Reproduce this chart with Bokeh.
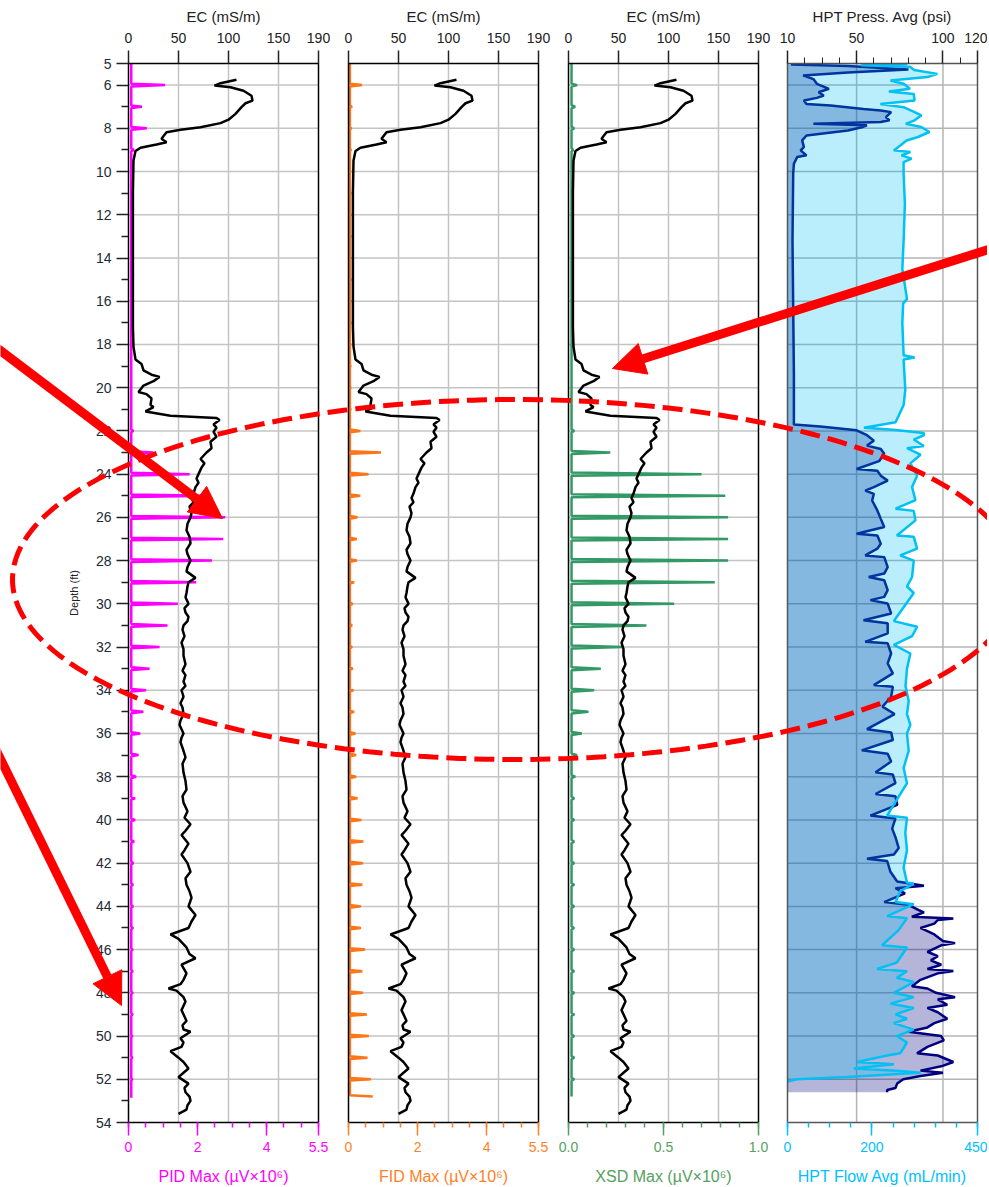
import numpy as np
from bokeh.plotting import figure
from bokeh.models import (Range1d, LinearAxis, FixedTicker, Arrow, NormalHead,
                          PolyAnnotation, ColumnDataSource)
from bokeh.embed import file_html
from bokeh.resources import INLINE

# ---------------- data ----------------
depth_ticks = [5, 6] + list(range(8, 55, 2))
depth_minor = list(range(7, 54, 2))
depth_grid = [6] + list(range(8, 54, 2))

ec_depth = [5.75, 5.91, 6.02, 6.10, 6.26, 6.49, 6.72, 6.84, 7.02, 7.33, 7.6, 7.76, 7.95, 8.07, 8.18,
            8.48, 8.64, 8.75, 8.9, 9.05, 9.49, 11.0, 14.1, 17.2, 18.1, 18.7, 18.9, 19.2, 19.4, 19.5,
            19.7, 19.9, 20.2, 20.3, 20.5, 20.8, 20.9, 21.1, 21.3, 21.4, 21.5, 21.7, 21.85, 22.04,
            22.27, 22.5, 22.8, 23.0, 23.3, 23.5, 23.7, 24.0, 24.2, 24.4, 24.6, 24.9, 25.1, 25.3, 25.5,
            25.8, 26.0, 26.3, 26.6, 26.9, 27.2, 27.5, 27.7, 28.0, 28.3, 28.5, 28.8, 29.0, 29.2, 29.5,
            29.7, 30.0, 30.2, 30.4, 30.6, 30.8, 31.0, 31.2, 31.5, 31.8, 32.1, 32.4, 32.8, 33.1, 33.3,
            33.6, 33.8, 34.0, 34.3, 34.6, 34.8, 35.1, 35.4, 35.6, 36.0, 36.2, 36.4, 36.8, 37.1, 37.4,
            37.8, 38.2, 38.6, 38.9, 39.2, 39.6, 39.9, 40.2, 40.5, 40.7, 41.1, 41.4, 41.6, 42.0, 42.4,
            42.7, 43.0, 43.3, 43.6, 44.0, 44.4, 44.7, 45.0, 45.3, 45.5, 45.9, 46.2, 46.4, 46.7, 47.1,
            47.4, 47.6, 47.8, 47.9, 48.2, 48.4, 48.8, 49.1, 49.3, 49.5, 49.7, 49.8, 50.1, 50.3, 50.5,
            50.7, 51.0, 51.2, 51.5, 51.7, 51.9, 52.2, 52.4, 52.6, 52.8, 53.0, 53.2, 53.4, 53.6]
ec_value = [108, 92, 86, 102, 115, 123, 124, 117, 113, 107, 100, 92, 72, 52, 38,
            33, 38, 28, 12, 7, 5, 4.4, 4.4, 4.4, 5, 7, 13, 15, 23, 31,
            25, 15, 10, 18, 23, 22, 25, 17, 42, 88, 91, 85, 88, 85,
            88, 82, 83, 78, 72, 76, 73, 70, 68, 70, 67, 65, 63, 65, 61,
            63, 62, 59, 58, 61, 62, 58, 59, 62, 59, 58, 67, 60, 59, 58,
            57, 60, 56, 57, 60, 59, 55, 54, 56, 53, 55, 55, 57, 54, 57,
            55, 57, 53, 55, 52, 54, 55, 52, 51, 55, 53, 52, 55, 57, 54,
            55, 57, 58, 54, 55, 59, 56, 62, 57, 53, 60, 56, 53, 59, 62,
            57, 58, 61, 63, 60, 67, 63, 60, 42, 50, 58, 61, 67, 53, 58,
            55, 52, 40, 48, 55, 57, 53, 56, 58, 54, 55, 62, 52, 55, 53,
            42, 50, 55, 60, 55, 50, 60, 56, 57, 61, 62, 59, 58, 50]

pid_depth = [6, 7, 8, 9, 22, 23, 24, 25, 26, 27, 28, 29, 30, 31, 32, 33, 34, 35, 36, 37, 38, 39,
             40, 41, 42, 43, 44, 45, 46, 47, 48, 49, 50, 51, 52]
pid_peak = [1.06, 0.39, 0.53, 0.16, 0.14, 0.72, 1.77, 2.35, 2.80, 2.74, 2.42, 1.96, 1.43, 1.13,
            0.90, 0.61, 0.51, 0.43, 0.34, 0.29, 0.22, 0.19, 0.19, 0.16, 0.14, 0.13, 0.13, 0.13,
            0.12, 0.12, 0.12, 0.12, 0.11, 0.11, 0.11]

fid_depth = [6, 7, 8, 9, 10, 11, 12, 13, 14, 15, 16, 17, 18, 19, 20, 21, 22, 23, 24, 25, 26, 27,
             28, 29, 30, 31, 32, 33, 34, 35, 36, 37, 38, 39, 40, 41, 42, 43, 44, 45, 46, 47, 48,
             49, 50, 51, 52]
fid_peak = [0.39, 0.10, 0.08, 0.07, 0.06, 0.06, 0.06, 0.06, 0.06, 0.06, 0.06, 0.06, 0.06, 0.06,
            0.06, 0.06, 0.34, 0.94, 0.58, 0.34, 0.26, 0.24, 0.24, 0.16, 0.12, 0.10, 0.10, 0.12,
            0.14, 0.16, 0.20, 0.22, 0.22, 0.26, 0.37, 0.43, 0.42, 0.40, 0.36, 0.36, 0.48, 0.40,
            0.42, 0.53, 0.59, 0.55, 0.65]
fid_last = (52.8, 0.70)

xsd_depth = [6, 7, 8, 9, 22, 23, 24, 25, 26, 27, 28, 29, 30, 31, 32, 33, 34, 35, 36, 37, 38, 39,
             40, 41, 42, 43, 44, 45, 46, 47, 48, 49, 50, 51, 52]
xsd_peak = [0.045, 0.035, 0.03, 0.025, 0.03, 0.22, 0.70, 0.825, 0.84, 0.84, 0.84, 0.77, 0.556,
            0.41, 0.29, 0.17, 0.135, 0.105, 0.07, 0.045, 0.035, 0.03, 0.03, 0.03, 0.03, 0.03,
            0.03, 0.03, 0.03, 0.03, 0.03, 0.03, 0.03, 0.03, 0.03]

press_depth = [5.05, 5.12, 5.28, 5.42, 5.55, 5.72, 5.94, 6.17, 6.33, 6.48, 6.59, 6.71, 6.87, 6.94,
               7.1, 7.17, 7.25, 7.48, 7.63, 7.71, 7.79, 7.86, 7.95, 8.1, 8.33, 8.56, 8.87, 9.02,
               9.25, 9.33, 9.64, 10.1, 13.2, 16.3, 19.4, 21.7, 21.8, 21.97, 22.2, 22.45, 22.68,
               22.84, 23.06, 23.4, 23.76, 23.84, 24.07, 24.3, 24.6, 24.76, 24.91, 25.22, 25.68,
               26.07, 26.45, 26.76, 26.84, 27.22, 27.45, 27.76, 27.84, 28.3, 28.6, 28.76, 28.91,
               29.37, 29.68, 29.83, 29.99, 30.45, 30.76, 30.9, 31.37, 31.76, 31.83, 32.3, 32.76,
               33.22, 33.76, 33.84, 34.3, 34.76, 35.1, 35.8, 35.95, 36.3, 36.78, 36.94, 37.3,
               37.8, 37.9, 38.3, 38.8, 38.9, 39.3, 39.8, 39.93, 40.4, 40.8, 41.3, 41.6, 41.8,
               41.9, 42.4, 42.85, 43.05, 43.16, 43.4, 43.8, 43.93, 44.17, 44.28, 44.48, 44.56,
               44.63, 44.8, 45.0, 45.3, 45.6, 45.7, 45.8, 46.1, 46.3, 46.5, 46.7, 46.9, 46.99,
               47.1, 47.4, 47.7, 47.8, 48.0, 48.2, 48.3, 48.55, 48.7, 48.9, 49.2, 49.4, 49.6,
               49.8, 50.0, 50.2, 50.5, 50.8, 50.9, 51.2, 51.4, 51.6, 51.7, 51.85, 52.0, 52.2,
               52.4, 52.5, 52.6]
press_value = [12, 45, 80, 45, 19, 25, 27, 34, 28, 31, 27, 19.5, 21, 35,
               54, 64, 70, 67, 69, 64, 25, 56, 53, 45, 21, 18.5, 19.5, 17.6,
               21, 15.6, 13.7, 13.3, 12.9, 13.3, 13.7, 13.7, 29, 50, 56, 60, 56,
               64, 66, 63, 50, 62, 64, 68, 60, 55, 60, 59, 62,
               64, 66, 50, 62, 64, 62, 55, 66, 68, 66, 57, 66,
               68, 66, 58, 68, 70, 54, 68, 68, 55, 68, 70, 68,
               71, 60, 71, 70, 65, 72, 56, 70, 71, 53, 68, 70,
               61, 71, 72.5, 61, 72.5, 73.5, 58, 72.5, 70.6, 72.5, 74.4, 71.6, 56,
               67.7, 69.6, 73.5, 89, 72.5, 78, 66, 80, 86, 89, 82, 106,
               97, 95, 87, 95, 100, 107, 99, 91, 97, 93, 99, 91, 106,
               97, 87, 82, 91, 96, 107, 97, 102.5, 91, 97, 102.5, 95, 91,
               80, 99, 100.5, 91, 85, 97, 106, 99, 87, 100, 87, 77, 73.5,
               72.5, 67.7, 67.7]

flow_depth = [5.02, 5.08, 5.15, 5.3, 5.48, 5.63, 5.79, 5.94, 6.17, 6.3, 6.41, 6.71, 6.87, 7.02,
              7.25, 7.4, 7.63, 7.79, 7.94, 8.17, 8.4, 8.56, 8.87, 9.02, 9.1, 9.25, 9.4, 9.56,
              10.1, 11.5, 13.2, 14.5, 15.9, 16.1, 17.0, 18.5, 18.6, 18.7, 20.1, 20.8, 21.6,
              21.85, 21.95, 22.1, 22.2, 22.4, 22.7, 22.8, 23.1, 23.5, 24.07, 24.6, 25.2, 25.6,
              25.7, 26.14, 26.84, 26.9, 27.45, 27.76, 28.0, 28.76, 29.2, 29.5, 30.8, 31.06,
              31.5, 31.9, 32.3, 33.0, 33.8, 34.5, 35.1, 35.6, 36.0, 36.8, 37.6, 38.3, 39.8,
              39.9, 40.6, 41.4, 42.2, 42.9, 42.95, 43.3, 43.8, 43.9, 44.45, 44.55, 45.1, 45.8,
              45.9, 46.6, 46.9, 47.0, 47.3, 47.5, 48.0, 48.2, 48.5, 48.7, 49.0, 49.2, 49.4,
              49.7, 50.0, 50.3, 50.8, 50.9, 51.2, 51.3, 51.5, 51.6, 51.7, 51.9, 52.0, 52.1]
flow_value = [284, 175, 290, 300, 355, 331, 244, 275, 290, 240, 299, 301, 220, 275,
              301, 317, 301, 280, 317, 336, 309, 282, 262, 252, 291, 270, 294, 275,
              275, 278, 275, 272, 283, 274, 272, 275, 301, 275, 279, 275, 256,
              181, 250, 323, 323, 299, 323, 283, 315, 291, 307, 295, 303, 256,
              299, 303, 259, 299, 307, 267, 299, 295, 283, 299, 252, 307,
              295, 252, 291, 283, 279.5, 287, 283, 291, 283, 287, 275, 283, 236,
              283, 279, 283, 275, 283, 299, 267, 256, 299, 236, 283, 263, 224,
              283, 259, 212, 283, 259, 299, 252, 299, 244, 299, 256, 283, 252,
              299, 259, 283, 267, 236, 165, 252, 157, 259, 315, 141, 23, 0]

# ---------------- layout (pixel positions of the four track frames) ----------------
W, H = 987, 1185
FONT = "Liberation Sans"
TOP, BOT = 63, 1122
PX = [128, 348, 568, 787]
PW = 190
DMIN, DMAX = 5, 54

p = figure(width=W, height=H, x_range=Range1d(0, W), y_range=Range1d(H, 0),
           x_axis_location=None, y_axis_location=None, toolbar_location=None,
           output_backend="svg", min_border=0)
p.outline_line_color = None
p.grid.visible = False
p.background_fill_color = "white"
p.border_fill_color = "white"


def px_range(p0, p1, v0, v1, total):
    s = (v1 - v0) / (p1 - p0)
    return Range1d(v0 - p0 * s, v0 + (total - p0) * s)


# depth scale: start of an extra y range maps to the bottom of the canvas
ds = (DMAX - DMIN) / (BOT - TOP)
p.extra_y_ranges = {"depth": Range1d(DMIN + (H - TOP) * ds, DMIN - TOP * ds)}

track_top = [("ec1", (0, 190)), ("ec2", (0, 190)), ("ec3", (0, 190)), ("press", (10, 120))]
track_bot = [("pid", (0, 5.5)), ("fid", (0, 5.5)), ("xsd", (0, 1.0)), ("flow", (0, 450))]
xr = {}
for i in range(4):
    for nm, (a, b) in (track_top[i], track_bot[i]):
        xr[nm] = px_range(PX[i], PX[i] + PW, a, b, W)
p.extra_x_ranges = xr


def top_axis(nm, bounds, ticks, minor, label):
    ax = LinearAxis(x_range_name=nm, fixed_location=TOP, bounds=bounds)
    ax.ticker = FixedTicker(ticks=ticks, minor_ticks=minor)
    ax.axis_label = label
    ax.axis_label_text_font = FONT
    ax.axis_label_text_font_size = "15px"
    ax.axis_label_text_font_style = "normal"
    ax.axis_label_text_color = "#222222"
    ax.axis_label_standoff = 5
    ax.major_label_text_font = FONT
    ax.major_label_text_font_size = "14px"
    ax.major_label_text_color = "#222222"
    ax.major_label_standoff = 8
    ax.major_tick_out = 13
    ax.major_tick_in = 0
    ax.minor_tick_out = 6
    ax.minor_tick_in = 0
    ax.major_tick_line_color = "#222222"
    ax.minor_tick_line_color = "#222222"
    ax.major_tick_line_width = 1.5
    ax.axis_line_color = None
    p.add_layout(ax, "above")


def bottom_axis(nm, bounds, ticks, minor, overrides, label, color):
    ax = LinearAxis(x_range_name=nm, fixed_location=BOT, bounds=bounds)
    ax.ticker = FixedTicker(ticks=ticks, minor_ticks=minor)
    ax.major_label_overrides = overrides
    ax.axis_label = label
    ax.axis_label_text_font = FONT
    ax.axis_label_text_font_size = "16px"
    ax.axis_label_text_font_style = "normal"
    ax.axis_label_text_color = color
    ax.axis_label_standoff = 13
    ax.major_label_text_font = FONT
    ax.major_label_text_font_size = "14px"
    ax.major_label_text_color = color
    ax.major_label_standoff = 6
    ax.major_tick_out = 13
    ax.major_tick_in = 0
    ax.minor_tick_out = 5
    ax.minor_tick_in = 0
    ax.major_tick_line_color = color
    ax.minor_tick_line_color = color
    ax.major_tick_line_width = 1.5
    ax.minor_tick_line_width = 1.5
    ax.axis_line_color = None
    p.add_layout(ax, "below")


# depth axis
dax = LinearAxis(y_range_name="depth", fixed_location=PX[0], bounds=(DMIN, DMAX))
dax.ticker = FixedTicker(ticks=depth_ticks, minor_ticks=depth_minor)
dax.axis_label = "Depth (ft)"
dax.axis_label_text_font = FONT
dax.axis_label_text_font_size = "11px"
dax.axis_label_text_font_style = "normal"
dax.axis_label_text_color = "#222222"
dax.axis_label_standoff = 13
dax.major_label_text_font = FONT
dax.major_label_text_font_size = "14px"
dax.major_label_text_color = "#1e2a38"
dax.major_label_standoff = 5
dax.major_tick_out = 12
dax.major_tick_in = 0
dax.minor_tick_out = 7
dax.minor_tick_in = 0
dax.major_tick_line_color = "#222222"
dax.minor_tick_line_color = "#222222"
dax.major_tick_line_width = 1.5
dax.minor_tick_line_width = 1.5
dax.axis_line_color = None
p.add_layout(dax, "left")

ec_ticks = [0, 50, 100, 150, 190]
for i in range(3):
    top_axis(f"ec{i+1}", (0, 190), ec_ticks, [], "EC (mS/m)")
top_axis("press", (10, 120), [10, 50, 100, 120], [20, 30, 40, 60, 70, 80, 90, 110],
         "HPT Press. Avg (psi)")
half = [x * 0.5 for x in range(12)]
bottom_axis("pid", (0, 5.5), [0, 2, 4, 5.5], half, {0: "0", 2: "2", 4: "4", 5.5: "5.5"},
            "PID Max (µV×10⁶)", "#ff00ff")
bottom_axis("fid", (0, 5.5), [0, 2, 4, 5.5], half, {0: "0", 2: "2", 4: "4", 5.5: "5.5"},
            "FID Max (µV×10⁶)", "#ff7f27")
bottom_axis("xsd", (0, 1.0), [0, 0.5, 1.0], [x * 0.1 for x in range(11)],
            {0: "0.0", 0.5: "0.5", 1: "1.0"}, "XSD Max (µV×10⁶)", "#55a060")
bottom_axis("flow", (0, 450), [0, 200, 450], list(range(0, 451, 50)),
            {0: "0", 200: "200", 450: "450"}, "HPT Flow Avg (mL/min)", "#00bfff")


# grids inside each track (at the depth and top-axis tick values)
def track_grid(nm, lo, hi, vticks, color):
    n = len(depth_grid)
    p.segment(x0=[lo] * n, x1=[hi] * n, y0=depth_grid, y1=depth_grid, x_range_name=nm,
              y_range_name="depth", line_color=color, line_width=1.5)
    m = len(vticks)
    p.segment(x0=vticks, x1=vticks, y0=[DMIN] * m, y1=[DMAX] * m, x_range_name=nm,
              y_range_name="depth", line_color=color, line_width=1.5)


for i in range(3):
    track_grid(f"ec{i+1}", 0, 190, [50, 100, 150], "#c4c4c4")
track_grid("press", 10, 120, [50, 100], "#b4b4b4")


def spike_trace(top, bottom, base, depths, peaks, hw, last=None):
    ys, xs = [top], [base]
    for d, v in zip(depths, peaks):
        ys += [d - hw, d, d + hw]
        xs += [base, v, base]
    if last is not None:
        ys += [last[0] - hw, last[0]]
        xs += [base, last[1]]
    else:
        ys.append(bottom)
        xs.append(base)
    return xs, ys


ec_src = ColumnDataSource(dict(x=ec_value, y=ec_depth))
det = [("pid", pid_depth, pid_peak, 0.08, 0.06, None, 52.85, "#ff00ff"),
       ("fid", fid_depth, fid_peak, 0.04, 0.06, fid_last, 52.8, "#ff7518"),
       ("xsd", xsd_depth, xsd_peak, 0.016, 0.07, None, 52.8, "#339966")]
for i, (nm, dd, pk, base, hw, last, bot, col) in enumerate(det):
    sx, sy = spike_trace(DMIN, bot, base, dd, pk, hw, last)
    p.line(x=sx, y=sy, x_range_name=nm, y_range_name="depth", line_color=col, line_width=2.5)
    p.line(x="x", y="y", source=ec_src, x_range_name=f"ec{i+1}", y_range_name="depth",
           line_color="black", line_width=2.5)

# HPT track
press_src = ColumnDataSource(dict(x=press_value, y=press_depth))
flow_src = ColumnDataSource(dict(x=flow_value, y=flow_depth))
p.harea(x1=10, x2="x", y="y", source=press_src, x_range_name="press", y_range_name="depth",
        fill_color="#000080", fill_alpha=0.29)
p.line(x="x", y="y", source=press_src, x_range_name="press", y_range_name="depth",
       line_color="#000080", line_width=2.5)
p.harea(x1=0, x2="x", y="y", source=flow_src, x_range_name="flow", y_range_name="depth",
        fill_color="#00c0f4", fill_alpha=0.27)
p.line(x="x", y="y", source=flow_src, x_range_name="flow", y_range_name="depth",
       line_color="#00c0f4", line_width=2.5)

# track frames
for nm, (a, b), col in [("ec1", (0, 190), "black"), ("ec2", (0, 190), "black"),
                        ("ec3", (0, 190), "black"), ("press", (10, 120), "#555555")]:
    p.quad(left=a, right=b, top=DMIN, bottom=DMAX, x_range_name=nm, y_range_name="depth",
           fill_color=None, line_color=col, line_width=1.5)

# ---------------- red mark-up (page pixel coordinates) ----------------
ang = np.linspace(0, 2 * np.pi, 240)
ell_x = list(515 + 503 * np.cos(ang))
ell_y = list(579 + 180 * np.sin(ang))
p.add_layout(PolyAnnotation(xs=ell_x, ys=ell_y, fill_alpha=0, line_color="#ff0000",
                            line_alpha=1, line_width=5, line_dash="20 8"))
arrows = [((-20, 335), (222, 518)), ((1010, 242), (612, 368)), ((-15, 728), (121, 1005))]
for (x0, y0), (x1, y1) in arrows:
    p.add_layout(Arrow(x_start=x0, y_start=y0, x_end=x1, y_end=y1,
                       line_color="#ff0000", line_width=9,
                       end=NormalHead(size=32, fill_color="#ff0000", line_color="#ff0000",
                                      line_width=1)))

open("out.html", "w").write(file_html(p, INLINE))
